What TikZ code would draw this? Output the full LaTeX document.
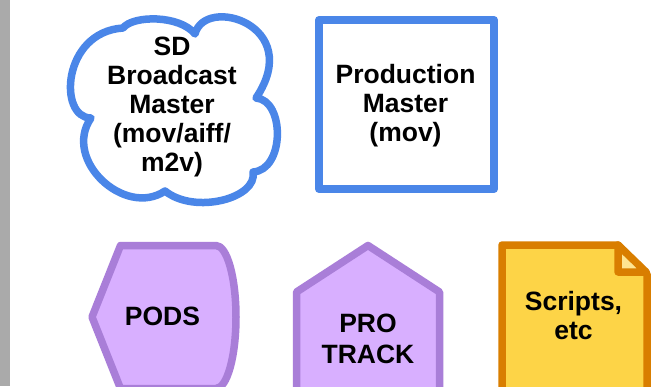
\documentclass[tikz,border=0pt]{standalone}
\usepackage{fontspec}
\setmainfont{Liberation Sans}
\definecolor{sidegray}{HTML}{AAAAAA}
\definecolor{cloudblue}{HTML}{4A86E8}
\definecolor{lavfill}{HTML}{D8AFFF}
\definecolor{lavstroke}{HTML}{A97ED8}
\definecolor{yelfill}{HTML}{FDD447}
\definecolor{foldfill}{HTML}{FEE492}
\definecolor{orstroke}{HTML}{D97E00}
\begin{document}
\begin{tikzpicture}[x=1pt,y=-1pt,
  lbl/.style={font=\fontsize{26.5}{29}\selectfont\bfseries, align=center, inner sep=0pt, text=black},
  outline/.style={line width=7.5pt, line join=round}]
\clip (0,0) rectangle (662,386);
\fill[white] (0,0) rectangle (662,386);
% grey strip on the left edge
\fill[sidegray] (0,0) rectangle (10,386);

% cloud
\draw[outline, draw=cloudblue, fill=white]
  (91,118) .. controls (58,118) and (62,32) .. (123,28)
  .. controls (133,15) and (180,15) .. (195,34)
  .. controls (205,-5) and (305,25) .. (256,98)
  .. controls (285,100) and (285,170) .. (253,172)
  .. controls (258,198) and (195,215) .. (165,191)
  .. controls (125,218) and (62,160) .. (91,118) -- cycle;

% square box
\draw[line width=8pt, line join=round, draw=cloudblue, fill=white] (319,20) rectangle (494,189);

% display shape
\draw[outline, draw=lavstroke, fill=lavfill]
  (120.5,245.5) -- (216,245.5)
  .. controls (227,245.5) and (236,277.5) .. (236,317)
  .. controls (236,356.5) and (227,388.5) .. (216,388.5)
  -- (120.5,388.5) -- (92,317) -- cycle;

% pentagon
\draw[outline, draw=lavstroke, fill=lavfill]
  (368,245.5) -- (439.5,292) -- (439.5,400) -- (296.5,400) -- (296.5,292) -- cycle;

% note with folded corner
\draw[outline, draw=orstroke, fill=yelfill]
  (502,245) -- (618,245) -- (647,274) -- (647,400) -- (502,400) -- cycle;
\draw[outline, draw=orstroke, fill=foldfill]
  (618,245) -- (618,272) -- (646,272) -- cycle;

% labels
\node[lbl] (sd) at (172,107.1) {SD\\Broadcast\\Master\\(mov/aiff/\\m2v)};
\node[lbl] (prod) at (405.5,106.1) {Production\\Master\\(mov)};
\node[lbl, anchor=base] (pods) at (162.5,325) {PODS};
\node[lbl, font=\fontsize{26.5}{30.5}\selectfont\bfseries] (pro) at (368,339) {PRO\\TRACK};
\node[lbl, font=\fontsize{26.5}{28.6}\selectfont\bfseries] (scripts) at (573.5,315.5) {Scripts,\\etc};
\end{tikzpicture}
\end{document}
